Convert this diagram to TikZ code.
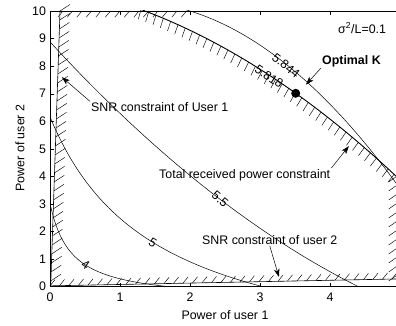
\documentclass[tikz,border=0pt]{standalone}
\usepackage{fontspec}
\setmainfont{Liberation Sans}
\usetikzlibrary{arrows.meta,decorations.markings}

\tikzset{
  hatch/.style n args={3}{postaction={decorate},decoration={markings,
    mark=between positions 0 and 1 step #3 with {\draw[line width=0.45bp] (0,0) -- (#1:#2);}}},
  arr/.style={line width=0.5bp,-{Stealth[length=8bp,width=5.5bp,inset=2bp]}},
  contour/.style={line width=0.5bp},
  clab/.style={inner sep=0pt},
}

\begin{document}
\begin{tikzpicture}[x=70bp,y=27.57bp,font=\fontsize{12.4bp}{14bp}\selectfont,every node/.style={inner sep=1bp}]
\useasboundingbox (-0.7143,-1.4255) rectangle (4.943,10.399);

% rate contours
\begin{scope}
\clip (0,0) rectangle (4.943,10);
\draw[contour] plot[domain=0:1.75,samples=60] (\x,{1.0656/(\x+0.3)-0.5328});
\draw[contour] plot[domain=0:3.1,samples=60] (\x,{13.8/(\x+1.5)-3.04});
\draw[contour] plot[domain=0:4.45,samples=40] (\x,{8.88-2.762*\x+0.1695*\x*\x});
\draw[contour] plot[domain=1.95:4.943,samples=40] (\x,{9.739+1.041*\x-0.4553*\x*\x});
% total received power constraint
\draw[line width=0.9bp,hatch={-85}{10bp}{8bp}] plot[domain=1.3:4.943,samples=40] (\x,{10.938-0.4223*\x-0.1981*\x*\x});
\end{scope}

% SNR and power limits
\draw[line width=0.6bp,hatch={125}{12bp}{9bp}] (0.143,10) -- (0.01,0.03);
\draw[line width=0.6bp,hatch={50}{8bp}{9.5bp}] (0,0.03) -- (4.943,0.28);
\path[hatch={50}{8bp}{9.5bp}] (1.95,10) -- (0.143,10);
\path[hatch={-55}{12bp}{9bp}] (4.98,4.05) -- (4.98,0.3);

% axes
\draw[line width=0.7bp] (4.943,10) -- (0,10) -- (0,0) -- (4.943,0);
\foreach \i in {1,...,4} {
  \draw (\i,0) -- (\i,0.15);
  \draw (\i,10) -- (\i,9.85);
}
\foreach \j in {1,...,9}
  \draw (0,\j) -- (0.06,\j);
\foreach \i in {0,...,4}
  \draw (\i,-0.19) node[anchor=north] {\i};
\foreach \j in {0,...,10}
  \draw (-0.04,\j) node[anchor=east] {\j};
\draw (2.5,-1.02) node(xlab) {Power of user 1};
\draw (-0.43,5.03) node(ylab) [rotate=90] {Power of user 2};

% contour labels
\draw (0.51,0.8) node(lfour) [clab,rotate=-33] {4};
\draw (1.47,1.6) node(lfive) [clab,rotate=-32] {5};
\draw (2.43,3.17) node(lfivefive) [clab,rotate=-40] {5.5};
\draw (3.13,7.62) node(lpower) [clab,rotate=-33] {5.818};
\draw (3.371,8.02) node(lbest) [clab,rotate=-38] {5.844};

% optimum
\node (optk) [circle,fill,inner sep=0pt,minimum size=9bp] at (3.51,7.015) {};

% annotations
\draw (0.571,6.515) node(snrone) [anchor=west] {SNR constraint of User 1};
\draw (1.543,4.05) node(total) [anchor=west] {Total received power constraint};
\draw (2.157,1.693) node(snrtwo) [anchor=west] {SNR constraint of user 2};
\draw (3.871,8.186) node(optlab) [anchor=west] {\bfseries Optimal K};
\draw (4.1,9.38) node(noise) [anchor=west] {σ\textsuperscript{2}/L=0.1};

\coordinate (tipone) at (0.17,7.6);
\coordinate (tiptotal) at (4.27,5.1);
\coordinate (tiptwo) at (3.271,0.352);
\coordinate (tipopt) at (3.657,7.33);
\draw[arr] (snrone.north west) -- (tipone);
\draw[arr] (total.north east) -- (tiptotal);
\draw[arr] (snrtwo.south) -- (tiptwo);
\draw[arr] (optlab.south west) -- (tipopt);
\end{tikzpicture}
\end{document}
